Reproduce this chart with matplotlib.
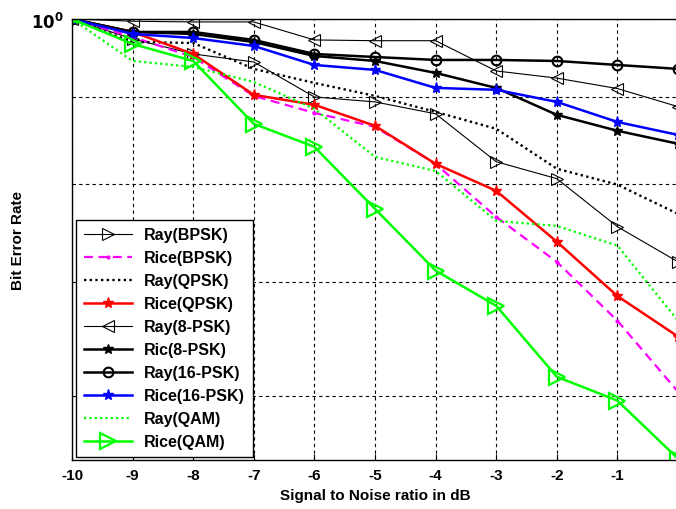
import numpy as np
import matplotlib.pyplot as plt
from matplotlib.ticker import NullFormatter

plt.rcParams['font.family'] = ['Liberation Sans', 'DejaVu Sans']
plt.rcParams['font.weight'] = 'bold'

snr_db = [-10, -9, -8, -7, -6, -5, -4, -3, -2, -1, 0]
# the 0 dB label falls off the right edge of the figure
snr_labels = ['-10', '-9', '-8', '-7', '-6', '-5', '-4', '-3', '-2', '-1', '']

# BER curves per fading channel / modulation
ray_bpsk = [1.0, 0.9733, 0.9537, 0.9434, 0.8997, 0.8937, 0.8794, 0.8241, 0.8054, 0.7546, 0.7195]
rice_bpsk = [1.0, 0.9759, 0.9498, 0.9010, 0.8805, 0.8640, 0.8217, 0.7647, 0.7195, 0.6643, 0.6034]
ray_qpsk = [1.0, 0.9693, 0.9680, 0.9346, 0.9170, 0.9010, 0.8817, 0.8617, 0.8163, 0.7989, 0.7678]
rice_qpsk = [1.0, 0.9826, 0.9537, 0.9023, 0.8902, 0.8652, 0.8217, 0.7922, 0.7394, 0.6869, 0.6502]
ray_8psk = [1.0, 0.997, 0.996, 0.996, 0.972, 0.971, 0.971, 0.932, 0.923, 0.910, 0.888]
ric_8psk = [1.0, 0.9826, 0.9799, 0.9693, 0.9511, 0.9447, 0.9295, 0.9108, 0.8782, 0.8594, 0.8444]
ray_16psk = [1.0, 0.9826, 0.9826, 0.9720, 0.9537, 0.9498, 0.9460, 0.9460, 0.9447, 0.9396, 0.9346]
rice_16psk = [1.0, 0.9799, 0.9746, 0.9641, 0.9396, 0.9333, 0.9108, 0.9085, 0.8937, 0.8697, 0.8546]
ray_qam = [1.0, 0.9447, 0.9371, 0.9182, 0.8853, 0.8295, 0.8138, 0.7606, 0.7554, 0.7355, 0.6643]
rice_qam = [1.0, 0.9667, 0.9447, 0.8675, 0.8409, 0.7731, 0.7110, 0.6779, 0.6157, 0.5961, 0.5510]

fig = plt.figure(figsize=(6.76, 5.10), dpi=100)
ax = fig.add_axes([72 / 676, 1 - 461 / 510, 606 / 676, 441 / 510])

ax.semilogy(snr_db, ray_bpsk, color='black', lw=0.8, marker='>', ms=9,
            mfc='none', mec='black', mew=0.8, label='Ray(BPSK)')
ax.semilogy(snr_db, rice_bpsk, color='magenta', lw=1.6, ls=(0, (4, 2.5)), marker='.',
            ms=4, label='Rice(BPSK)')
ax.semilogy(snr_db, ray_qpsk, color='black', lw=1.7, ls=(0, (1, 1.4)), label='Ray(QPSK)')
ax.semilogy(snr_db, rice_qpsk, color='red', lw=1.8, marker='*', ms=8, label='Rice(QPSK)')
ax.semilogy(snr_db, ray_8psk, color='black', lw=0.8, marker='<', ms=9,
            mfc='none', mec='black', mew=0.8, label='Ray(8-PSK)')
ax.semilogy(snr_db, ric_8psk, color='black', lw=1.8, marker='*', ms=7, label='Ric(8-PSK)')
ax.semilogy(snr_db, ray_16psk, color='black', lw=1.8, marker='o', ms=7,
            mfc='none', mew=1.5, label='Ray(16-PSK)')
ax.semilogy(snr_db, rice_16psk, color='blue', lw=1.8, marker='*', ms=8, label='Rice(16-PSK)')
ax.semilogy(snr_db, ray_qam, color='#00ff00', lw=1.6, ls=(0, (1, 1.4)), label='Ray(QAM)')
ax.semilogy(snr_db, rice_qam, color='#00ff00', lw=1.8, marker='>', ms=11,
            mfc='none', mew=1.6, label='Rice(QAM)')

ax.set_xlim(-10, 0)
ax.set_ylim(0.55, 1.0)
ax.set_xticks(snr_db)
ax.set_xticklabels(snr_labels, fontsize=11, fontweight='bold')
ax.set_yticks([1.0])
ax.set_yticklabels([r'$\mathbf{10^0}$'], fontsize=12)
ax.set_yticks([0.6, 0.7, 0.8, 0.9], minor=True)
ax.yaxis.set_minor_formatter(NullFormatter())
ax.tick_params(direction='in', length=4, width=0.8, pad=6)
ax.tick_params(which='minor', direction='in', length=2)

ax.grid(True, which='both', color='black', ls=(0, (3, 3)), lw=0.8)
for s in ax.spines.values():
    s.set_linewidth(1.0)

ax.set_xlabel('Signal to Noise ratio in dB', fontsize=11, fontweight='bold', labelpad=4)
ax.set_ylabel('Bit Error Rate', fontsize=11, fontweight='bold', labelpad=4)

leg = ax.legend(loc='lower left', bbox_to_anchor=(0.006, 0.006), fontsize=11.5,
                handlelength=3.0, labelspacing=0.5, borderpad=0.5, fancybox=False,
                framealpha=1, edgecolor='black', borderaxespad=0)
leg.get_frame().set_linewidth(1.0)
for t in leg.get_texts():
    t.set_fontweight('bold')

plt.savefig('out.png', dpi=100)
